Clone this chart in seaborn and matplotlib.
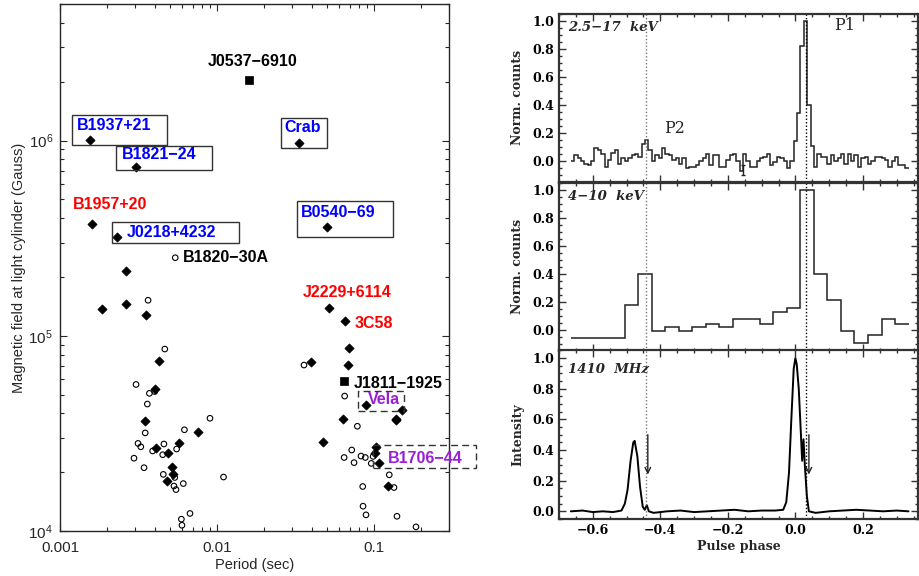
import matplotlib
matplotlib.use("Agg")
import matplotlib.pyplot as plt
import matplotlib.patches as mpatches
from matplotlib.ticker import MultipleLocator, FixedLocator, LogLocator
import numpy as np
import seaborn as sns

sns.set_style("ticks")
plt.rcParams["font.family"] = ["Liberation Sans", "DejaVu Sans"]

# ---- left panel: period vs. light-cylinder field -------------------------
diamond_period = [0.00155, 0.0331, 0.00305, 0.0016, 0.00232, 0.0505, 0.00263,
                  0.00186, 0.00263, 0.00353, 0.0516, 0.0656, 0.0695, 0.00428,
                  0.0398, 0.0682, 0.00405, 0.0889, 0.151, 0.137, 0.138,
                  0.00347, 0.0632, 0.00757, 0.0475, 0.00573, 0.00408, 0.0049,
                  0.103, 0.101, 0.108, 0.00516, 0.00527, 0.00482, 0.123]
diamond_field = [1.01e6, 9.7e5, 7.3e5, 3.73e5, 3.19e5, 3.61e5, 2.14e5,
                 1.37e5, 1.45e5, 1.27e5, 1.38e5, 1.19e5, 8.67e4, 7.41e4,
                 7.33e4, 7.08e4, 5.33e4, 4.43e4, 4.19e4, 3.76e4, 3.70e4,
                 3.68e4, 3.73e4, 3.22e4, 2.85e4, 2.84e4, 2.66e4, 2.50e4,
                 2.70e4, 2.50e4, 2.24e4, 2.12e4, 1.96e4, 1.81e4, 1.71e4]

square_period = [0.0161, 0.0643]
square_field = [2.04e6, 5.86e4]

circle_period = [0.00542, 0.00364, 0.00465, 0.0358, 0.00305, 0.00401, 0.00371,
                 0.065, 0.0036, 0.00902, 0.0783, 0.0062, 0.00349, 0.00314,
                 0.00327, 0.00459, 0.00553, 0.00389, 0.00451, 0.00296,
                 0.00343, 0.00455, 0.00538, 0.0061, 0.00532, 0.00548, 0.011,
                 0.00673, 0.00593, 0.00598, 0.0721, 0.0645, 0.0746, 0.0826,
                 0.088, 0.0987, 0.096, 0.125, 0.134, 0.0847, 0.0851, 0.0889,
                 0.14, 0.185]
circle_field = [2.51e5, 1.52e5, 8.55e4, 7.08e4, 5.63e4, 5.18e4, 5.07e4,
                4.91e4, 4.47e4, 3.78e4, 3.44e4, 3.30e4, 3.18e4, 2.81e4,
                2.70e4, 2.79e4, 2.63e4, 2.57e4, 2.46e4, 2.36e4,
                2.11e4, 1.95e4, 1.88e4, 1.75e4, 1.70e4, 1.63e4, 1.89e4,
                1.23e4, 1.15e4, 1.07e4, 2.60e4, 2.38e4, 2.24e4, 2.42e4,
                2.38e4, 2.41e4, 2.22e4, 1.94e4, 1.67e4, 1.69e4, 1.34e4, 1.21e4,
                1.19e4, 1.05e4]

pulsar_names = ["J0537\u22126910", "B1937+21", "Crab", "B1821\u221224",
                "B1957+20", "B0540\u221269", "J0218+4232", "B1820\u221230A",
                "J2229+6114", "3C58", "J1811\u22121925", "Vela", "B1706\u221244"]
name_period = [0.00873, 0.00129, 0.0267, 0.00247, 0.00121, 0.0344, 0.00266,
               0.00605, 0.0351, 0.0753, 0.0746, 0.092, 0.1216]
name_field = [2.55e6, 1.19e6, 1.16e6, 8.45e5, 4.72e5, 4.27e5, 3.38e5,
              2.52e5, 1.67e5, 1.16e5, 5.70e4, 4.72e4, 2.34e4]
name_color = ["black", "blue", "blue", "blue", "red", "blue", "blue",
              "black", "red", "red", "black", "#9a1fd6", "#9a1fd6"]

# ---- right panels: pulse profiles ----------------------------------------
phase_start = -0.665
fine_width = 0.01
fine_counts = [0.00, 0.04, 0.02, 0.00, -0.02, -0.03, 0.00, 0.09, 0.08, 0.05,
               -0.04, 0.01, 0.06, 0.08, -0.02, 0.02, 0.00, 0.02, 0.04, 0.05,
               0.03, 0.12, 0.15, 0.08, 0.00, 0.04, 0.02, 0.09, 0.05, 0.04,
               0.01, 0.02, -0.02, 0.02, -0.05, -0.04, -0.04, -0.03, 0.00, 0.02,
               0.05, -0.03, 0.04, 0.04, -0.04, -0.04, 0.01, 0.04, 0.05, 0.00,
               -0.07, 0.05, 0.00, -0.04, -0.04, 0.00, 0.02, 0.03, 0.05, -0.03,
               -0.01, 0.03, 0.02, 0.00, -0.05, 0.00, 0.14, 0.34, 0.82, 1.00,
               0.40, 0.11, -0.04, 0.05, 0.03, 0.03, -0.02, 0.04, 0.00, 0.02,
               0.05, -0.02, 0.05, 0.00, 0.04, -0.04, 0.02, 0.03, -0.02, 0.00,
               0.03, 0.03, 0.02, 0.01, -0.04, 0.00, 0.03, -0.03, -0.03, -0.05]
coarse_width = 0.04
coarse_counts = [-0.06, -0.06, -0.06, -0.06, 0.18, 0.40, -0.01, 0.02, -0.01,
                 0.02, 0.045, 0.02, 0.075, 0.075, 0.045, 0.13, 0.155, 1.00,
                 0.40, 0.21, -0.01, -0.09, -0.035, 0.075, 0.045]

radio_phase = [-0.665, -0.63, -0.60, -0.57, -0.54, -0.515, -0.505, -0.497,
               -0.488, -0.480, -0.476, -0.468, -0.460, -0.452, -0.446, -0.440,
               -0.434, -0.42, -0.38, -0.34, -0.30, -0.26, -0.22, -0.18, -0.14,
               -0.10, -0.06, -0.036, -0.027, -0.019, -0.012, -0.005, 0.0,
               0.004, 0.010, 0.016, 0.020, 0.024, 0.028, 0.034, 0.040, 0.06,
               0.10, 0.14, 0.18, 0.22, 0.26, 0.30, 0.335]
radio_intensity = [0.0, 0.005, -0.005, 0.0, -0.005, 0.005, 0.05, 0.14, 0.33,
                   0.45, 0.46, 0.36, 0.16, 0.03, 0.01, 0.04, 0.0, -0.01, 0.0,
                   0.005, -0.005, 0.0, 0.005, 0.01, 0.0, 0.005, 0.005, 0.01,
                   0.06, 0.25, 0.60, 0.93, 1.0, 0.96, 0.80, 0.52, 0.33, 0.47,
                   0.30, 0.10, 0.0, -0.01, 0.0, 0.005, 0.01, 0.005, 0.0, 0.005,
                   0.0]

p2_phase, p1_phase = -0.442, 0.032
arrow_phase = [-0.437, 0.040]

fig = plt.figure(figsize=(9.2, 5.76), dpi=100)

# ---------------- left panel ----------------
ax = fig.add_axes([0.0652, 0.0781, 0.4228, 0.9149])
ax.set_xscale("log")
ax.set_yscale("log")

sns.scatterplot(x=diamond_period, y=diamond_field, marker="D", s=22,
                color="black", edgecolor="black", linewidth=0.5, ax=ax)
sns.scatterplot(x=square_period, y=square_field, marker="s", s=34,
                color="black", edgecolor="black", linewidth=0.5, ax=ax)
sns.scatterplot(x=circle_period, y=circle_field, marker="o", s=16,
                color="black", facecolor="none", edgecolor="black",
                linewidth=0.8, ax=ax)

for name, p, b, c in zip(pulsar_names, name_period, name_field, name_color):
    ax.text(p, b, name, color=c, fontsize=11.5, fontweight="bold",
            ha="left", va="center", clip_on=False)

# label boxes (period0, period1, field0, field1, dashed)
boxes = [
    (0.00120, 0.00479, 9.51e5, 1.35e6, False),
    (0.00227, 0.00925, 7.03e5, 9.40e5, False),
    (0.0256, 0.0505, 9.14e5, 1.31e6, False),
    (0.0322, 0.1315, 3.21e5, 4.91e5, False),
    (0.00215, 0.01387, 2.97e5, 3.84e5, False),
    (0.0787, 0.156, 4.10e4, 5.22e4, True),
    (0.0982, 0.447, 2.10e4, 2.76e4, True),
]
for x0, x1, y0, y1, dashed in boxes:
    ax.add_patch(mpatches.Rectangle((x0, y0), x1 - x0, y1 - y0, fill=False,
                                    lw=1.0, ec="#333333",
                                    ls=(0, (5, 3)) if dashed else "-",
                                    clip_on=False))

ax.set_xlim(0.001, 0.3)
ax.set_ylim(1e4, 5e6)
ax.set_xticks([0.001, 0.01, 0.1])
ax.set_xticklabels(["0.001", "0.01", "0.1"])
ax.yaxis.set_major_locator(LogLocator(base=10, numticks=10))
ax.tick_params(which="both", direction="in", top=True, right=True,
               labelsize=11, width=0.8)
ax.tick_params(which="major", length=5)
ax.tick_params(which="minor", length=3)
ax.tick_params(axis="x", pad=7)
ax.tick_params(axis="y", pad=5)
for sp in ax.spines.values():
    sp.set_linewidth(1.0)
ax.set_xlabel("Period (sec)", fontsize=10.5, labelpad=2)
ax.set_ylabel("Magnetic field at light cylinder (Gauss)", fontsize=10.5,
              labelpad=2)

# ---------------- right panels ----------------
serif = ["DejaVu Serif"]
frame_col = "#333333"
bottoms = [0.6840, 0.3906, 0.0990]
axes = []
for bot in bottoms:
    a = fig.add_axes([0.6076, bot, 0.3902, 0.2925],
                     sharex=axes[0] if axes else None)
    axes.append(a)

fine_edges = np.round(phase_start + fine_width * np.arange(len(fine_counts) + 1), 4)
coarse_edges = np.round(phase_start + coarse_width * np.arange(len(coarse_counts) + 1), 4)

axes[0].stairs(fine_counts, fine_edges, color="#222222", lw=1.1, baseline=None)
axes[0].errorbar([-0.155], [-0.065], yerr=[0.035], fmt="none",
                 ecolor="#222222", elinewidth=1.0, capsize=1.5)
axes[1].stairs(coarse_counts, coarse_edges, color="#222222", lw=1.1,
               baseline=None)
sns.lineplot(x=radio_phase, y=radio_intensity, color="black", lw=1.4,
             ax=axes[2], estimator=None, sort=False)

for ann_x in arrow_phase:
    axes[2].annotate("", xy=(ann_x, 0.24), xytext=(ann_x, 0.50),
                     arrowprops=dict(arrowstyle="->", lw=1.0, color="#222222",
                                     shrinkA=0, shrinkB=0))

panel_text = ["2.5\u221217  keV", "4\u221210  keV", "1410  MHz"]
panel_text_y = [0.92, 0.915, 0.885]
ylabels = ["Norm. counts", "Norm. counts", "Intensity"]
for a, txt, ty, yl in zip(axes, panel_text, panel_text_y, ylabels):
    a.axvline(p2_phase, color="#777777", lw=1.0, ls=(0, (1, 1.5)))
    a.axvline(p1_phase, color="black", lw=1.0, ls=(0, (1, 1.5)))
    a.text(0.025, ty, txt, transform=a.transAxes, family=serif,
           fontweight="bold", fontstyle="italic", fontsize=9.5,
           ha="left", va="center")
    a.set_ylabel(yl, family=serif, fontweight="bold", fontsize=9, labelpad=6)
    a.yaxis.set_major_locator(FixedLocator([0.0, 0.2, 0.4, 0.6, 0.8, 1.0]))
    a.yaxis.set_minor_locator(MultipleLocator(0.05))
    a.xaxis.set_major_locator(MultipleLocator(0.2))
    a.xaxis.set_minor_locator(MultipleLocator(0.05))
    a.tick_params(which="both", direction="in", top=True, right=True,
                  colors=frame_col, labelcolor="black", width=1.0)
    a.tick_params(which="major", length=5)
    a.tick_params(which="minor", length=2.5)
    for lab in a.get_yticklabels():
        lab.set_family(serif)
        lab.set_fontweight("bold")
        lab.set_fontsize(9)
    for sp in a.spines.values():
        sp.set_linewidth(1.6)
        sp.set_color(frame_col)

axes[0].set_ylim(-0.15, 1.05)
axes[1].set_ylim(-0.15, 1.05)
axes[2].set_ylim(-0.05, 1.05)
axes[0].set_xlim(-0.70, 0.363)
for a in axes[:2]:
    a.tick_params(labelbottom=False)

axes[0].text(0.114, 0.965, "P1", family=serif, fontsize=11.5,
             ha="left", va="center")
axes[0].text(-0.388, 0.232, "P2", family=serif, fontsize=11.5,
             ha="left", va="center")

axes[2].set_xlabel("Pulse phase", family=serif, fontweight="bold",
                   fontsize=9, labelpad=2)
for lab in axes[2].get_xticklabels():
    lab.set_family(serif)
    lab.set_fontweight("bold")
    lab.set_fontsize(9)

fig.savefig("out.png", dpi=100)
